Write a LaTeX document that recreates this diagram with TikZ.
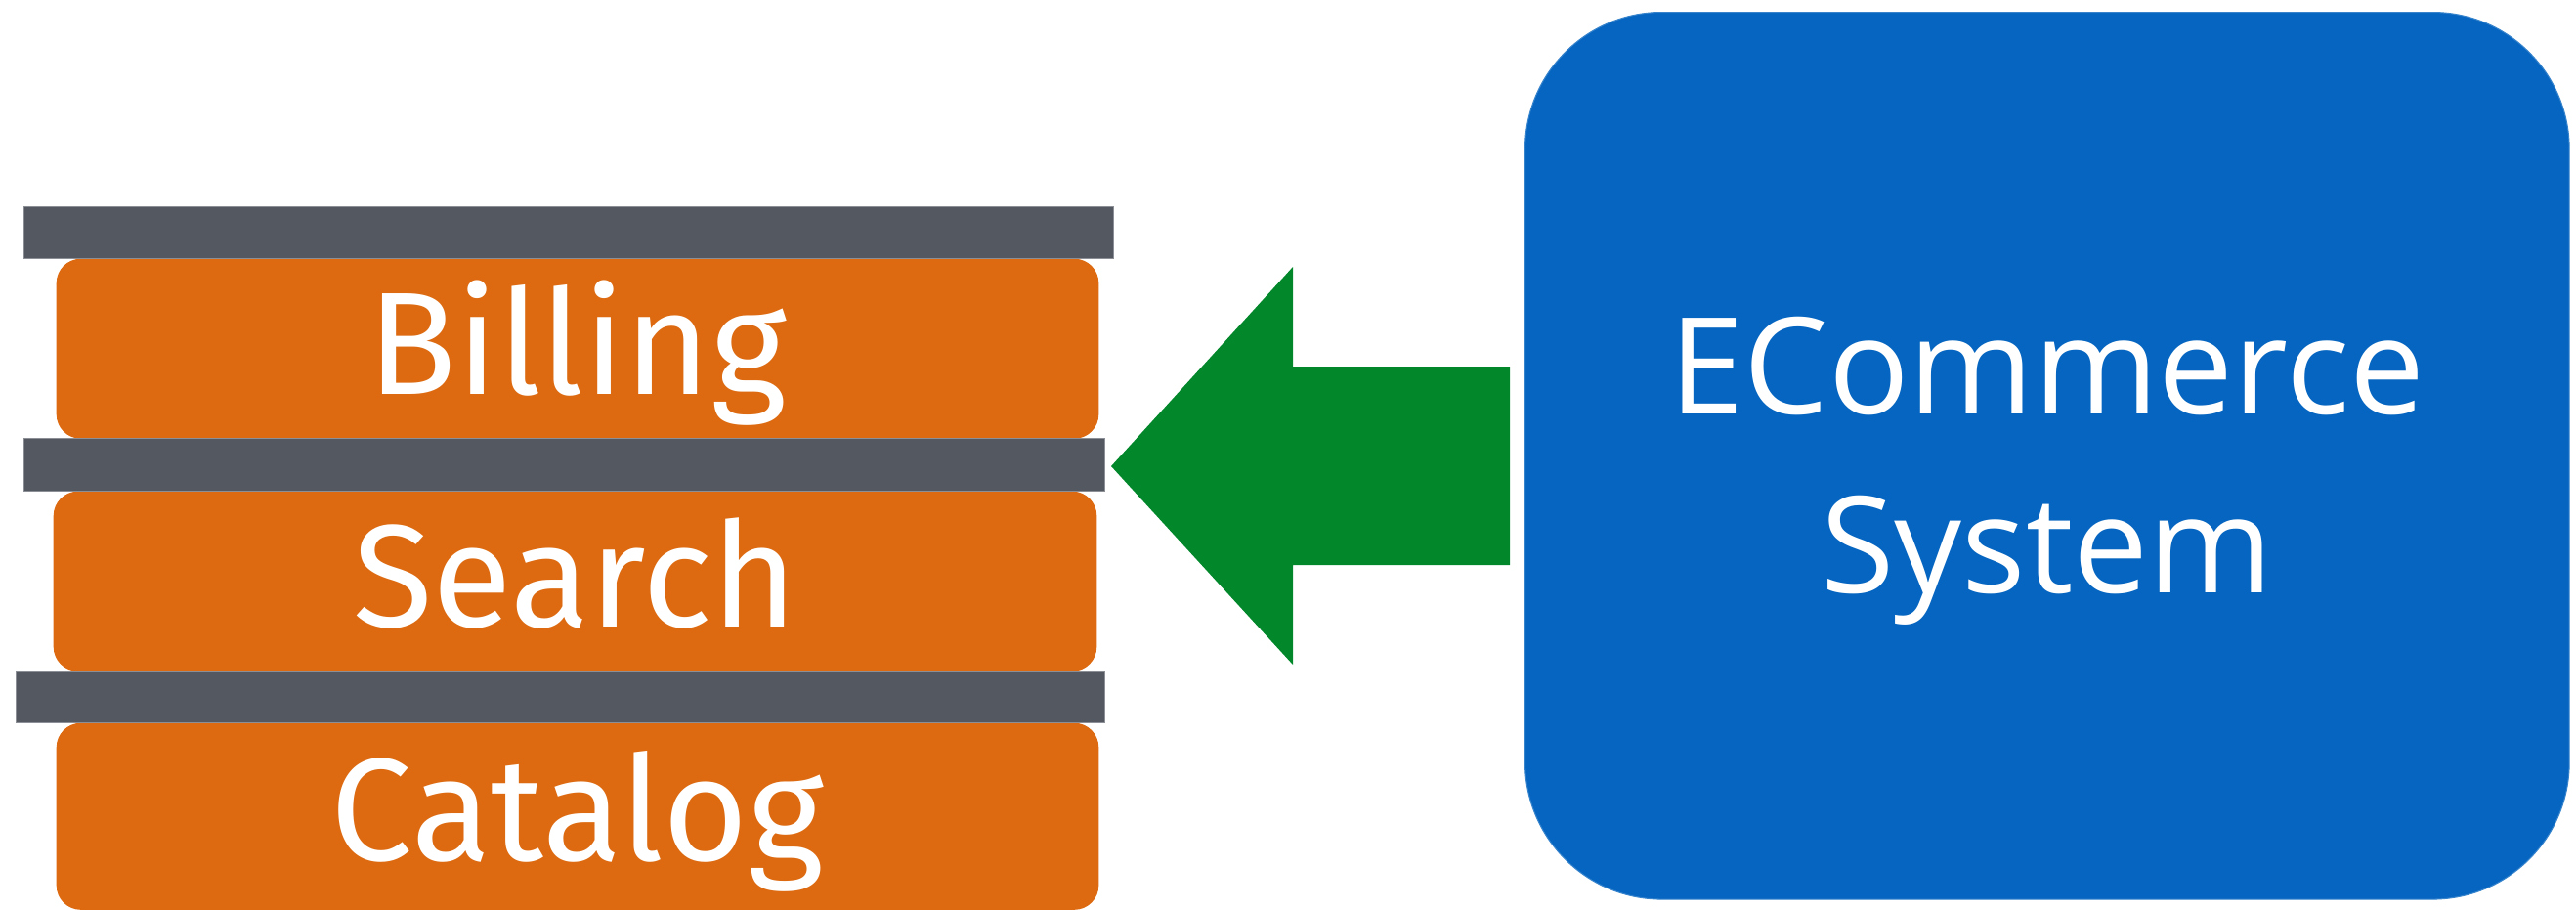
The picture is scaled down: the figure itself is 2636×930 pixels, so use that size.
\documentclass[tikz,border=0pt]{standalone}
\usepackage{fontspec}
\newfontfamily\layerfont{Fira Sans}
\newfontfamily\sysfont{Open Sans}
\definecolor{barGray}{RGB}{84,88,96}
\definecolor{barEdge}{RGB}{140,143,149}
\definecolor{layerOrange}{RGB}{221,106,16}
\definecolor{flowGreen}{RGB}{2,135,43}
\definecolor{sysBlue}{RGB}{5,101,192}
\tikzset{
  layerbar/.style={fill=barGray, draw=barEdge, line width=0.3pt, inner sep=0pt, anchor=north west},
  layerbox/.style={fill=layerOrange, rounded corners=0.25cm, inner sep=0pt, anchor=north west},
  layertext/.style={text=white, anchor=base, inner sep=0pt, font=\layerfont\fontsize{42.5}{51}\selectfont},
  systext/.style={text=white, anchor=base, inner sep=0pt, font=\sysfont\fontsize{39}{47}\selectfont},
}
\begin{document}
\begin{tikzpicture}[x=0.01cm, y=-0.01cm]
  \useasboundingbox (0,0) rectangle (2636,930);

  % service layers
  \node[layerbox, minimum width=10.66cm, minimum height=1.84cm] (billing) at (57,264) {};
  \node[layerbox, minimum width=10.67cm, minimum height=1.84cm] (search) at (54,502) {};
  \node[layerbox, minimum width=10.66cm, minimum height=1.91cm] (catalog) at (57,739) {};

  % separators between the layers
  \node[layerbar, minimum width=11.14cm, minimum height=0.53cm] (bar1) at (24,211) {};
  \node[layerbar, minimum width=11.05cm, minimum height=0.54cm] (bar2) at (24,448) {};
  \node[layerbar, minimum width=11.13cm, minimum height=0.53cm] (bar3) at (16,686) {};

  % layer labels
  \node[layertext] (billingText) at (billing.center |- 0,403) {Billing};
  \node[layertext] (searchText) at (search.center |- 0,641) {Search};
  \node[layertext] (catalogText) at (catalog.center |- 0,880) {Catalog};

  % the system
  \node[fill=sysBlue, draw=sysBlue!80!white, line width=0.3pt, rounded corners=1.4cm,
        inner sep=0pt, anchor=north west,
        minimum width=10.68cm, minimum height=9.07cm] (system) at (1560,12) {};
  \node[systext] (sysLine1) at (system.center |- 0,423) {ECommerce};
  \node[systext] (sysLine2) at (system.center |- 0,606) {System};

  % block arrow from the system to the layer stack
  \coordinate (arrowTip) at (1137,477);
  \coordinate (arrowTail) at (1545,477);
  \fill[flowGreen] (arrowTip) -- (1323,273) -- (1323,375) -- (arrowTail |- 0,375)
    -- (arrowTail |- 0,578) -- (1323,578) -- (1323,680) -- cycle;
\end{tikzpicture}
\end{document}
